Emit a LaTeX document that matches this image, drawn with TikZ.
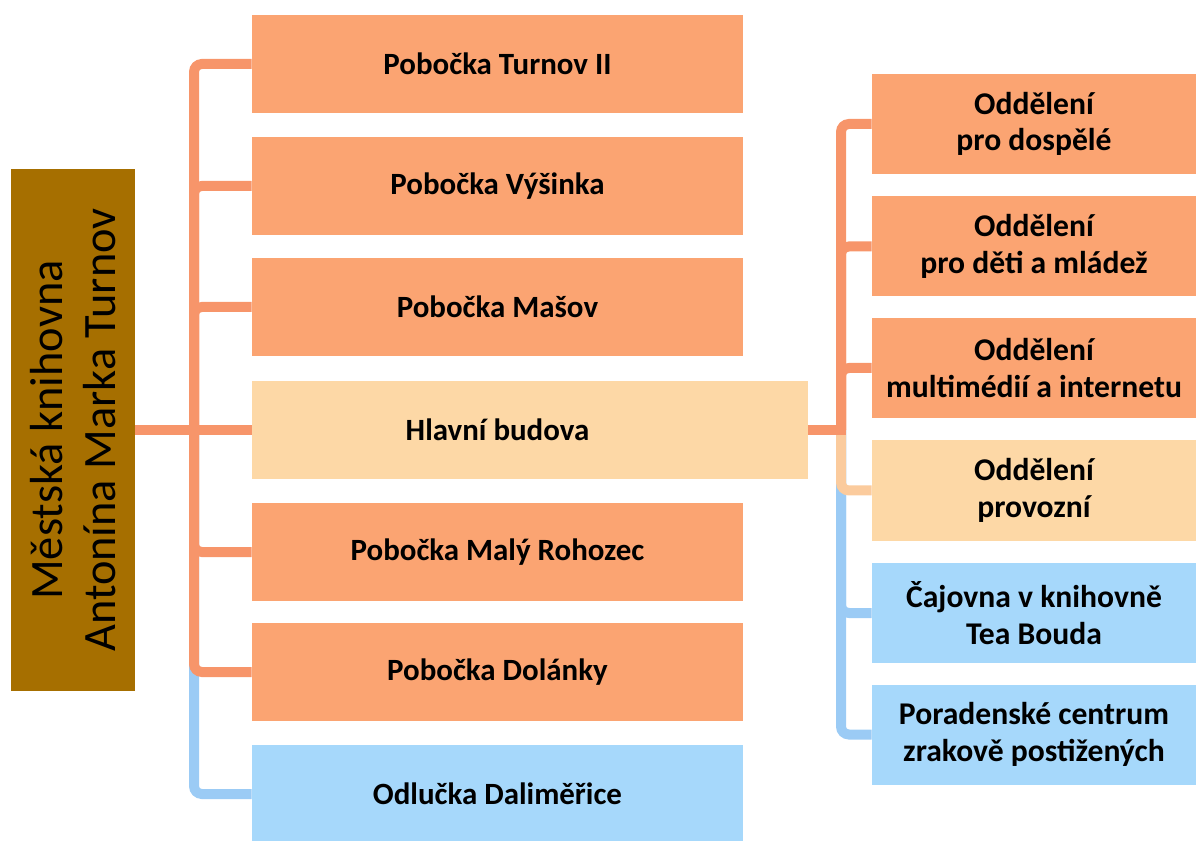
\documentclass[tikz,border=0pt]{standalone}
\usepackage{fontspec}
\setmainfont{Carlito}
\usetikzlibrary{positioning}

\definecolor{bark}{HTML}{A66F00}
\definecolor{boxorange}{HTML}{FBA472}
\definecolor{boxpeach}{HTML}{FDD8A6}
\definecolor{boxblue}{HTML}{A6D8FB}
\definecolor{lineorange}{HTML}{F7956A}
\definecolor{linepeach}{HTML}{FBCB9D}
\definecolor{lineblue}{HTML}{9BCBF5}

\begin{document}
\begin{tikzpicture}[
    box/.style={minimum width=12.275cm, minimum height=2.45cm, align=center, inner sep=0pt,
      font=\fontsize{22}{26}\selectfont\bfseries},
    dept/.style={box, minimum width=8.1cm, minimum height=2.5cm,
      font=\fontsize{22.5}{26}\selectfont\bfseries},
    link/.style={line width=0.25cm, rounded corners=0.2cm}
  ]
  \useasboundingbox (0,0) rectangle (29.9,-21.025);

  % root (rotated, so its .south is the right side)
  \node[fill=bark, rotate=90, minimum width=13.05cm, minimum height=3.1cm, align=center,
    font=\fontsize{33}{38}\selectfont] (root) at (1.825,-10.75) {Městská knihovna\\Antonína Marka Turnov};

  % branches
  \node[box, fill=boxorange] (turnov) at (12.4375,-1.6) {Pobočka Turnov II};
  \node[box, fill=boxorange] (vysinka) at (12.4375,-4.65) {Pobočka Výšinka};
  \node[box, fill=boxorange] (masov) at (12.4375,-7.675) {Pobočka Mašov};
  \node[box, fill=boxpeach, minimum width=13.9cm] (hlavni) at (13.25,-10.75) {};
  \node[font=\fontsize{22}{26}\selectfont\bfseries] (hlavnitext) at (12.4375,-10.75) {Hlavní budova};
  \node[box, fill=boxorange] (rohozec) at (12.4375,-13.8) {Pobočka Malý Rohozec};
  \node[box, fill=boxorange] (dolanky) at (12.4375,-16.8) {Pobočka Dolánky};
  \node[box, fill=boxblue] (odlucka) at (12.4375,-19.85) {Odlučka Daliměřice};

  % departments
  \node[dept, fill=boxorange] (dospele) at (25.85,-3.1) {Oddělení\\pro dospělé};
  \node[dept, fill=boxorange] (deti) at (25.85,-6.1625) {Oddělení\\pro děti a mládež};
  \node[dept, fill=boxorange] (multi) at (25.85,-9.2) {Oddělení\\multimédií a internetu};
  \node[dept, fill=boxpeach] (provoz) at (25.85,-12.2625) {Oddělení\\provozní};
  \node[dept, fill=boxblue] (cajovna) at (25.85,-15.325) {Čajovna v knihovně\\Tea Bouda};
  \node[dept, fill=boxblue] (poradna) at (25.85,-18.3625) {Poradenské centrum\\zrakově postižených};

  \coordinate (ltrunk) at (4.85,-10.75);
  \coordinate (rtrunk) at (21.025,-10.75);

  % left connectors
  \draw[link, lineblue] (ltrunk) |- (odlucka.west);
  \draw[link, lineorange] (ltrunk) |- (dolanky.west);
  \draw[link, lineorange] (ltrunk) |- (rohozec.west);
  \draw[link, lineorange] (ltrunk) |- (masov.west);
  \draw[link, lineorange] (ltrunk) |- (vysinka.west);
  \draw[link, lineorange] (ltrunk) |- (turnov.west);
  \draw[link, lineorange] (root.south) -- (hlavni.west);

  % right connectors
  \draw[link, lineblue] (rtrunk) |- (poradna.west);
  \draw[link, lineblue] (rtrunk) |- (cajovna.west);
  \draw[link, linepeach] (rtrunk) |- (provoz.west);
  \draw[link, lineorange] (rtrunk) |- (multi.west);
  \draw[link, lineorange] (rtrunk) |- (deti.west);
  \draw[link, lineorange] (rtrunk) |- (dospele.west);
  \draw[link, lineorange] (hlavni.east) -- ([xshift=0.125cm]rtrunk);
\end{tikzpicture}
\end{document}
